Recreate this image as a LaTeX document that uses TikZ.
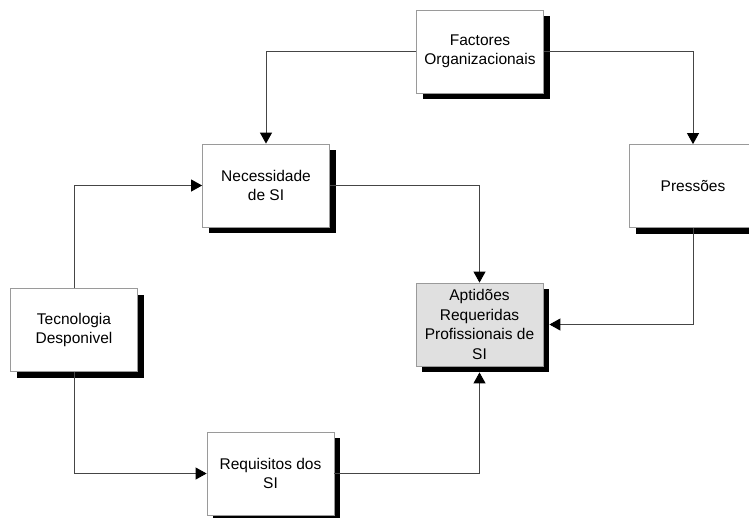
\documentclass[tikz,border=0pt]{standalone}
\usepackage{fontspec}
\setmainfont{Liberation Sans}
\usetikzlibrary{arrows.meta,shadows}
\definecolor{boxline}{HTML}{9A9A9A}
\definecolor{conline}{HTML}{454545}
\definecolor{aptfill}{HTML}{E0E0E0}
\begin{document}
\begin{tikzpicture}[x=1pt,y=-1pt,
  boxnode/.style={draw=boxline, line width=0.8pt, fill=white, minimum width=127pt, minimum height=83pt,
    inner sep=2pt, align=center, font=\fontsize{15.5}{19.5}\selectfont,
    drop shadow={shadow xshift=6pt, shadow yshift=-6pt, fill=black, opacity=1}},
  conn/.style={draw=conline, line width=0.9pt, -{Triangle[length=11pt,width=12pt,color=black]}}]
\useasboundingbox (0,0) rectangle (749,517);
\clip (0,0) rectangle (749,517);
\node[boxnode] (fact) at (480,51.5) {Factores\\Organizacionais};
\node[boxnode] (nec) at (266,185.5) {Necessidade\\de SI};
\node[boxnode] (pres) at (693,186) {Pressões};
\node[boxnode, fill=aptfill] (apt) at (479.5,324.5) {Aptidões\\Requeridas\\Profissionais de\\SI};
\node[boxnode] (tec) at (74,330) {Tecnologia\\Desponivel};
\node[boxnode] (req) at (270.5,473.5) {Requisitos dos\\SI};
\draw[conn] (fact.west) -| (nec.north);
\draw[conn] (fact.east) -| (pres.north);
\draw[conn] (nec.east) -| (apt.north);
\draw[conn] (pres.south) |- ([xshift=6pt]apt.east);
\draw[conn] (tec.north) |- (nec.west);
\draw[conn] (tec.south) |- (req.west);
\draw[conn] (req.east) -| ([yshift=-6pt]apt.south);
\end{tikzpicture}
\end{document}
